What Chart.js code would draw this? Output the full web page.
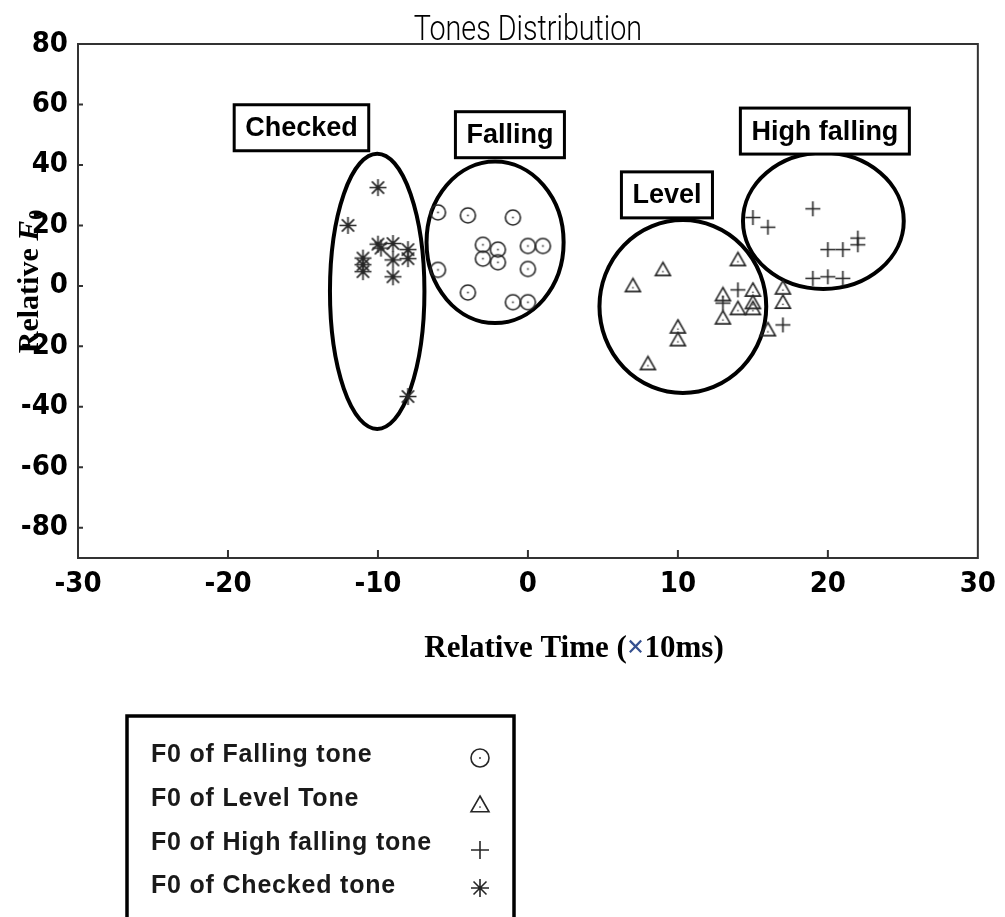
<!DOCTYPE html>
<html lang="en">
<head>
<meta charset="UTF-8">
<title>Tones Distribution</title>
<script src="https://cdn.jsdelivr.net/npm/chart.js"></script>
<style>
  html, body { margin: 0; padding: 0; background: #fff; }
  #wrap { width: 1005px; height: 917px; }
</style>
</head>
<body>
<div id="wrap"><canvas id="tones" width="1005" height="917"></canvas></div>
<script>
// values (x: relative time in 10ms, y: relative F0)
const fallingX = [-6, -4, -1, -3, -2, -3, -2, 0, 1, -6, 0, -4, -1, 0];
const fallingY = [24.3, 23.3, 22.6, 13.6, 12, 9, 7.8, 13.2, 13.2, 5.3, 5.6, -2.2, -5.4, -5.4];
const levelX = [7, 9, 14, 13, 13, 14, 15, 15, 15, 17, 17, 16, 10, 10, 8];
const levelY = [0, 5.3, 8.6, -3, -10.7, -7.6, -1.5, -5.6, -7.6, -0.8, -5.5, -14.6, -13.7, -17.9, -25.8];
const highX = [15, 16, 19, 20, 21, 22, 22, 19, 20, 21, 14, 13, 17];
const highY = [22.6, 19.4, 25.5, 12, 12, 15.8, 13.6, 2.5, 3, 2.5, -1.3, -5.7, -12.9];
const checkedX = [-10, -12, -10, -9.8, -9, -8, -11, -11, -11, -9, -9, -8, -8];
const checkedY = [32.5, 20, 13.8, 12.5, 14, 12, 9.2, 7, 4.7, 8.6, 3, 9, -36.6];

const xTicks = [-30, -20, -10, 0, 10, 20, 30];
const yTicks = [-80, -60, -40, -20, 0, 20, 40, 60, 80];
const seriesNames = ['F0 of Falling tone', 'F0 of Level Tone', 'F0 of High falling tone', 'F0 of Checked tone'];
const groupNames = ['Checked', 'Falling', 'Level', 'High falling'];

// ellipse outlines and label boxes, in axis units
const groupShapes = [
  { cx: -10.05, cy: -1.8, rx: 3.15, ry: 45.5, lx: -15.1, ly: 52.3 },
  { cx: -2.19, cy: 14.4, rx: 4.57, ry: 26.7, lx: -1.2, ly: 50 },
  { cx: 10.33, cy: -6.8, rx: 5.56, ry: 28.6, lx: 9.27, ly: 30.1 },
  { cx: 19.7, cy: 21.5, rx: 5.36, ry: 22.5, lx: 19.8, ly: 51.2 }
];

const ink = '#262626';

function makeMarker(kind, size) {
  const c = document.createElement('canvas');
  c.width = c.height = size + 4;
  const g = c.getContext('2d');
  const m = c.width / 2, r = size / 2;
  g.strokeStyle = ink;
  g.fillStyle = ink;
  g.lineWidth = 1.6;
  g.beginPath();
  if (kind === 'circle') {
    g.arc(m, m, r, 0, Math.PI * 2);
    g.stroke();
    g.fillRect(m - 0.8, m - 0.8, 1.6, 1.6);
  } else if (kind === 'triangle') {
    g.moveTo(m, m - r);
    g.lineTo(m + r, m + r * 0.75);
    g.lineTo(m - r, m + r * 0.75);
    g.closePath();
    g.stroke();
    g.fillRect(m - 0.7, m + r * 0.15, 1.4, 1.4);
  } else if (kind === 'plus') {
    g.moveTo(m - r, m); g.lineTo(m + r, m);
    g.moveTo(m, m - r); g.lineTo(m, m + r);
    g.stroke();
  } else {
    const d = r * 0.72;
    g.moveTo(m - r, m); g.lineTo(m + r, m);
    g.moveTo(m, m - r); g.lineTo(m, m + r);
    g.moveTo(m - d, m - d); g.lineTo(m + d, m + d);
    g.moveTo(m - d, m + d); g.lineTo(m + d, m - d);
    g.stroke();
  }
  return c;
}

const kinds = ['circle', 'triangle', 'plus', 'star'];
const pointImgs = [makeMarker('circle', 15), makeMarker('triangle', 15), makeMarker('plus', 15), makeMarker('star', 17)];
const legendImgs = kinds.map(k => makeMarker(k, 18));

const xs = [fallingX, levelX, highX, checkedX];
const ys = [fallingY, levelY, highY, checkedY];
const datasets = seriesNames.map((name, i) => ({
  label: name,
  data: xs[i].map((v, j) => ({ x: v, y: ys[i][j] })),
  pointStyle: pointImgs[i],
  pointRadius: 8
}));

const tickFont = { family: '"Liberation Sans Narrow", "DejaVu Sans Condensed", "Liberation Sans"', size: 29, weight: 'bold' };

const overlay = {
  id: 'overlay',
  beforeDatasetsDraw(chart) {
    const { ctx, scales: { x, y } } = chart;
    ctx.save();
    ctx.lineWidth = 4;
    ctx.strokeStyle = '#000';
    groupShapes.forEach(g => {
      const cx = x.getPixelForValue(g.cx), cy = y.getPixelForValue(g.cy);
      const rx = Math.abs(x.getPixelForValue(g.cx + g.rx) - cx);
      const ry = Math.abs(y.getPixelForValue(g.cy + g.ry) - cy);
      ctx.beginPath();
      ctx.ellipse(cx, cy, rx, ry, 0, 0, Math.PI * 2);
      ctx.stroke();
    });
    ctx.restore();
  },
  afterDraw(chart) {
    const { ctx, chartArea: a, scales: { x, y } } = chart;
    ctx.save();

    // group labels
    ctx.font = 'bold 27px "Liberation Sans", Arial, sans-serif';
    ctx.textAlign = 'center';
    ctx.textBaseline = 'middle';
    groupShapes.forEach((g, i) => {
      const px = x.getPixelForValue(g.lx), py = y.getPixelForValue(g.ly);
      const w = ctx.measureText(groupNames[i]).width + 22, h = 46;
      ctx.fillStyle = '#fff';
      ctx.fillRect(px - w / 2, py - h / 2, w, h);
      ctx.lineWidth = 3;
      ctx.strokeStyle = '#000';
      ctx.strokeRect(px - w / 2, py - h / 2, w, h);
      ctx.fillStyle = '#000';
      ctx.fillText(groupNames[i], px, py + 1);
    });

    // frame and inward ticks
    ctx.lineWidth = 2;
    ctx.strokeStyle = '#333';
    ctx.strokeRect(a.left, a.top, a.right - a.left, a.bottom - a.top);
    ctx.beginPath();
    yTicks.forEach(v => {
      const py = y.getPixelForValue(v);
      ctx.moveTo(a.left, py); ctx.lineTo(a.left + 5, py);
    });
    xTicks.slice(1, -1).forEach(v => {
      const px = x.getPixelForValue(v);
      ctx.moveTo(px, a.bottom); ctx.lineTo(px, a.bottom - 8);
    });
    ctx.stroke();

    // title
    ctx.fillStyle = '#000';
    ctx.save();
    ctx.translate((a.left + a.right) / 2, 40);
    ctx.scale(0.82, 1);
    ctx.font = '300 35px Roboto, "Liberation Sans", sans-serif';
    ctx.textAlign = 'center';
    ctx.textBaseline = 'alphabetic';
    ctx.fillText('Tones Distribution', 0, 0);
    ctx.restore();

    // y title: Relative F0 (italic F, subscript 0)
    ctx.save();
    ctx.translate(30, 282);
    ctx.rotate(-Math.PI / 2);
    ctx.textAlign = 'left';
    ctx.textBaseline = 'middle';
    const serif = '"Liberation Serif", "Times New Roman", serif';
    const f1 = 'bold 30px ' + serif, f2 = 'italic bold 30px ' + serif, f3 = 'bold 20px ' + serif;
    ctx.font = f1; const w1 = ctx.measureText('Relative ').width;
    ctx.font = f2; const w2 = ctx.measureText('F').width;
    ctx.font = f3; const w3 = ctx.measureText('0').width;
    let sx = -(w1 + w2 + w3) / 2;
    ctx.font = f1; ctx.fillText('Relative ', sx, 0); sx += w1;
    ctx.font = f2; ctx.fillText('F', sx, 0); sx += w2 + 1;
    ctx.font = f3; ctx.fillText('0', sx, 8);
    ctx.restore();

    // x title
    ctx.save();
    ctx.font = 'bold 31px ' + serif;
    ctx.textBaseline = 'alphabetic';
    ctx.textAlign = 'left';
    const p1 = 'Relative Time (', p2 = '\u00d7', p3 = '10ms)';
    const q1 = ctx.measureText(p1).width, q2 = ctx.measureText(p2).width, q3 = ctx.measureText(p3).width;
    let tx = 574 - (q1 + q2 + q3) / 2;
    ctx.fillStyle = '#000'; ctx.fillText(p1, tx, 657); tx += q1;
    ctx.fillStyle = '#35508f'; ctx.fillText(p2, tx, 657); tx += q2;
    ctx.fillStyle = '#000'; ctx.fillText(p3, tx, 657);
    ctx.restore();

    // legend box
    ctx.lineWidth = 3.5;
    ctx.strokeStyle = '#000';
    ctx.strokeRect(127, 716, 387, 230);
    ctx.font = 'bold 25px "Liberation Sans", Arial, sans-serif';
    ctx.letterSpacing = '0.8px';
    ctx.fillStyle = '#1a1a1a';
    ctx.textAlign = 'left';
    ctx.textBaseline = 'middle';
    const rowY = [755, 799, 843, 886];
    const markY = [758, 805, 850, 888];
    chart.data.datasets.forEach((ds, i) => {
      ctx.fillText(ds.label, 151, rowY[i]);
      const img = legendImgs[i];
      ctx.drawImage(img, 480 - img.width / 2, markY[i] - img.height / 2);
    });
    ctx.restore();
  }
};

new Chart(document.getElementById('tones'), {
  type: 'scatter',
  data: { datasets: datasets },
  options: {
    responsive: false,
    animation: false,
    layout: { padding: { top: 44, right: 20, left: 0, bottom: 319 } },
    plugins: { legend: { display: false }, tooltip: { enabled: false } },
    scales: {
      x: {
        min: -30, max: 30,
        afterBuildTicks: s => { s.ticks = xTicks.map(v => ({ value: v })); },
        afterFit: s => { s.height = 40; },
        grid: { display: false, drawTicks: false },
        border: { display: false },
        ticks: { padding: 9, color: '#000', font: tickFont, maxRotation: 0, autoSkip: false }
      },
      y: {
        min: -90, max: 80,
        afterBuildTicks: s => { s.ticks = yTicks.map(v => ({ value: v })); },
        afterFit: s => { s.width = 78; },
        grid: { display: false, drawTicks: false },
        border: { display: false },
        ticks: { padding: 10, color: '#000', font: tickFont, autoSkip: false }
      }
    }
  },
  plugins: [overlay]
});
</script>
</body>
</html>
